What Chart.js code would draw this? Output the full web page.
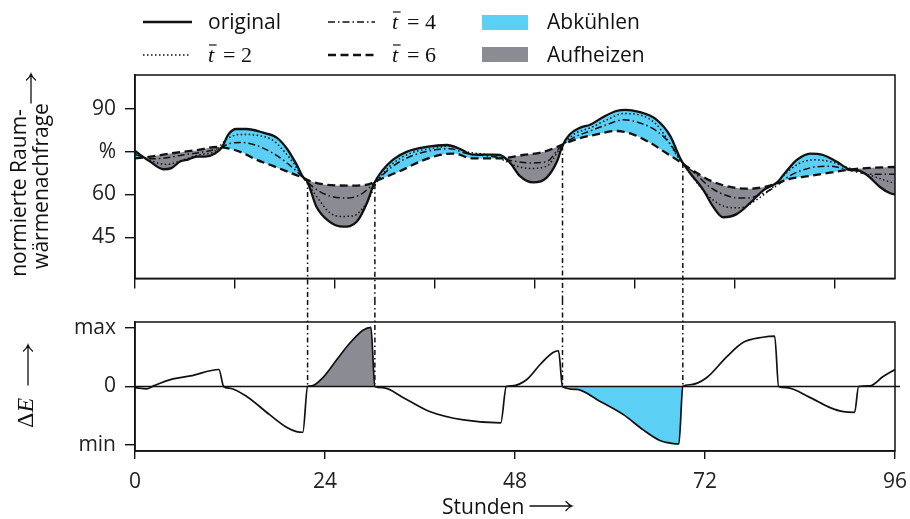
<!DOCTYPE html>
<html>
<head>
<meta charset="utf-8">
<script src="https://cdn.jsdelivr.net/npm/chart.js@4.4.1/dist/chart.umd.min.js"></script>
<style>
  body { margin: 0; background: #fff; }
  #wrap { position: relative; width: 910px; height: 519px; }
  canvas { position: absolute; left: 0; }
  #oben { top: 0; }
  #unten { top: 300px; }
</style>
</head>
<body>
<div id="wrap">
  <canvas id="oben" width="910" height="300"></canvas>
  <canvas id="unten" width="910" height="219"></canvas>
</div>
<script>
// normierte Raumwärmenachfrage (Stunden / Prozent)
const stundenOriginal = [0,1.9,3.6,4.6,5.7,6.7,7.8,8.8,10.1,11,11.8,12.8,14.1,16.2,17.9,19.2,20.4,21.2,21.8,22.9,24.6,26.3,28,29.3,30.2,31.2,32.6,34.3,36.8,39.4,41,42.7,45.3,46.1,47.4,48.6,50.3,52,53.3,54,54.9,56.2,57.5,59.2,60.8,62,63.5,65.9,67.6,68.8,69.2,70.1,71.8,73,74.3,76,77.7,79.4,81.1,82.3,83.6,85.3,86.9,88.6,90.3,91.6,92.8,94.1,95.4,96];
const wertOriginal = [75.2,71.5,68.8,69.2,71.5,72.2,73.2,73.2,74.3,76.6,81,82.9,82.9,81.6,79.9,76,70.5,66.2,64.3,55.8,50.4,48.7,50.4,57,63.8,68.2,72.2,74.9,76.6,77.3,76,73.9,73.9,73.8,71,66.5,64.2,65.9,71.5,77.1,81,83.3,84.4,87.2,89.2,89.6,89,86.1,80.5,73,71,67.5,61.5,55.8,52,53.1,57,61.5,64.2,68.2,72.1,74.3,73.8,71.5,68.7,68.2,66,62.6,60.4,60];

const stundenT2 = [0,2,4,6,8,10,11.6,13.3,15.4,17.5,18.7,20,20.8,21.8,23.4,24.6,25.9,27.6,28.8,29.7,30.3,32.2,34.7,37.7,39.8,41.9,45.3,48.2,49.9,52,53.7,55.4,57.5,59.6,61.7,63.8,65.9,67.2,68.4,69.2,71.4,73,74.7,76.4,78.5,80.6,82.3,84,85.7,87.8,89.9,92,93.7,96];
const wertT2 = [74.5,71.8,70.5,72,73.8,75,79.4,81,80.7,78.8,75.5,71,67.6,63.8,57.5,53.6,52.3,52.5,55.3,59.2,63.1,69.9,74.3,76.2,76.9,74.9,73.5,69.9,69.1,69.9,76,81,83.3,86.1,88.3,87.8,84.4,79.4,73.8,71,62.6,58.1,55.6,55.3,58.1,62.6,67.6,71,72.1,71.5,69.5,67.6,65.9,63.8];

const stundenT4 = [0,2,4,6,8,10.5,12,13.3,15.4,17.5,19.2,20.8,21.7,23.4,25,26.7,28.4,29.7,30.5,32.6,34.7,37.7,39.8,41.9,45.3,48.2,49.9,52,53.7,55.4,57.5,59.6,61.7,63.8,65.9,67.6,68.8,69.2,70.9,72.6,75.2,77.3,79.4,81.1,82.7,85.3,87.8,90.3,92.8,96];
const wertT4 = [74,72.5,72.8,73.8,74.6,76,77.8,78.2,77.1,74.3,71,67.1,64.5,60.9,59.2,58.7,59.8,62.6,64.8,69.9,73.2,75.5,76,74.3,73.2,71.5,71,71.5,76.6,79.9,82.2,84.4,86.1,85,82.2,77.7,72.5,71,67,62.6,59.2,58.7,60.4,63.1,66.5,69.3,69.9,68.4,67.1,67.1];

const stundenT6 = [0,1.9,4.4,7.8,10.3,11.6,13.3,15.4,17.5,19.6,21.3,22.1,24.2,27.2,29.3,30.5,33.5,36,38.5,40.2,42.7,46.1,49,51.6,53.7,55.8,58.3,60.8,62.9,65,67.2,68.8,70.1,71.4,72.6,75.2,77.7,80.2,82.7,85.3,87.8,90.3,92.8,96];
const wertT6 = [72.6,73.2,74.3,75.5,76.6,76.2,74.9,72.1,69.9,67.6,65.7,64.7,63.4,63.1,63.4,64.8,68.2,71.5,73.8,74.3,72.6,72.6,73.8,74.9,77.1,79.4,81,82.2,81,78.2,74.3,71.5,69,66.8,64.9,62.6,62,63.1,65.4,66.5,67.6,68.7,69.3,69.6];

// Energiedifferenz ΔE (normiert auf min/max)
const stundenE = [0,1.5,2.5,4.8,7,10.6,11.2,12,14.1,17,19.2,20.4,21.2,21.8,22.3,23.8,25.5,27.2,28.8,29.8,30.3,31.3,33.9,37.3,41.5,46.2,46.9,47.6,49.5,51.2,52.8,53.5,54,55.8,58.7,61.7,64.2,66.3,67.8,68.7,69.2,70.1,72.2,74.7,76.8,79.3,80.8,81.3,82.3,85.3,87.8,89.5,90.9,91.4,92.8,94.5,96];
const wertE = [-0.02,-0.04,0.02,0.13,0.18,0.29,0,-0.03,-0.17,-0.48,-0.7,-0.77,-0.78,0,0.01,0.16,0.46,0.75,0.96,1.01,0,-0.02,-0.19,-0.43,-0.57,-0.62,0,0.01,0.12,0.38,0.58,0.61,0,-0.05,-0.25,-0.48,-0.74,-0.92,-0.97,-0.98,0,0.03,0.15,0.5,0.75,0.84,0.86,0,-0.02,-0.19,-0.36,-0.43,-0.44,0,0.01,0.17,0.29];

// Umschaltzeitpunkte und Niveau im oberen Diagramm
const umschaltStunden = [21.8, 30.3, 54.0, 69.2];
const umschaltNiveau = [65.2, 63.6, 77.1, 71.0];
const aufheizFenster = [21.8, 30.3];
const abkuehlFenster = [54.0, 69.2];

// Achsenteilung
const xTicksOben = [0, 12.63, 25.26, 37.89, 50.53, 63.16, 75.79, 88.42];
const xTicksUnten = [0, 24, 48, 72, 96];
const yTicksOben = [45, 60, 75, 90];
const yTicksUnten = [-1, 0, 1];

const BLAU = '#5ccff5';
const GRAU = '#8b8c93';
const SCHWARZ = '#111';
const SCHRIFT = '"Open Sans", "DejaVu Sans", sans-serif';
const GROESSE = 21;
const FONT = GROESSE + 'px ' + SCHRIFT;

const DASH_T2 = [1.5, 2.5];
const DASH_T4 = [7, 3, 1.5, 3];
const DASH_T6 = [8, 4.5];

function punkte(stunden, werte) {
    return stunden.map((h, i) => ({ x: h, y: werte[i] }));
}

function fenster(stunden, werte, von, bis) {
    return stunden.map((h, i) => ({ x: h, y: (h >= von && h <= bis) ? werte[i] : null }));
}

// langer Pfeil nach rechts (im aktuellen Koordinatensystem)
function pfeil(ctx, x, y, laenge) {
    ctx.save();
    ctx.translate(x, y);
    ctx.strokeStyle = SCHWARZ;
    ctx.lineWidth = 1.3;
    ctx.lineCap = 'round';
    ctx.beginPath();
    ctx.moveTo(0, 0);
    ctx.lineTo(laenge, 0);
    ctx.moveTo(laenge - 6, -4.5);
    ctx.quadraticCurveTo(laenge - 3, -1, laenge, 0);
    ctx.quadraticCurveTo(laenge - 3, 1, laenge - 6, 4.5);
    ctx.stroke();
    ctx.restore();
}

function senkrecht(ctx, text, cx, cy, font) {
    ctx.save();
    ctx.translate(cx, cy);
    ctx.rotate(-Math.PI / 2);
    ctx.font = font;
    ctx.textAlign = 'center';
    ctx.textBaseline = 'middle';
    ctx.fillText(text, 0, 0);
    ctx.restore();
}

function musterLinie(ctx, x0, x1, y, dash, breite) {
    ctx.save();
    ctx.beginPath();
    ctx.setLineDash(dash);
    ctx.lineWidth = breite;
    ctx.strokeStyle = SCHWARZ;
    ctx.moveTo(x0, y);
    ctx.lineTo(x1, y);
    ctx.stroke();
    ctx.restore();
}

// t mit Querstrich, dann "= n"
function tQuer(ctx, x, y, zahl) {
    ctx.save();
    ctx.textAlign = 'left';
    ctx.textBaseline = 'alphabetic';
    ctx.font = 'italic 22px "Liberation Serif", serif';
    ctx.fillText('t', x, y);
    const wt = ctx.measureText('t').width;
    ctx.beginPath();
    ctx.lineWidth = 1.2;
    ctx.strokeStyle = SCHWARZ;
    ctx.moveTo(x + 1, y - 17);
    ctx.lineTo(x + wt + 2.5, y - 17);
    ctx.stroke();
    ctx.font = '22px "Liberation Serif", serif';
    ctx.fillText('= ' + zahl, x + wt + 9, y);
    ctx.restore();
}

function legende(ctx) {
    ctx.save();
    ctx.fillStyle = SCHWARZ;
    ctx.font = FONT;
    ctx.textBaseline = 'alphabetic';
    ctx.textAlign = 'left';

    musterLinie(ctx, 143, 192, 22, [], 2.5);
    ctx.fillText('original', 208, 29);
    musterLinie(ctx, 143, 190, 55, DASH_T2, 1.5);
    tQuer(ctx, 208, 62, 2);

    musterLinie(ctx, 328, 375, 22, DASH_T4, 1.5);
    tQuer(ctx, 392, 29, 4);
    musterLinie(ctx, 328, 375, 55, DASH_T6, 2.6);
    tQuer(ctx, 392, 62, 6);

    ctx.fillStyle = BLAU;
    ctx.fillRect(482, 15, 46, 15);
    ctx.fillStyle = GRAU;
    ctx.fillRect(482, 47, 46, 15);
    ctx.fillStyle = SCHWARZ;
    ctx.font = FONT;
    ctx.fillText('Abkühlen', 547, 29);
    ctx.fillText('Aufheizen', 547, 62);
    ctx.restore();
}

function rahmen(ctx, a) {
    ctx.save();
    ctx.strokeStyle = SCHWARZ;
    ctx.lineWidth = 1.5;
    ctx.strokeRect(a.left, a.top, a.right - a.left, a.bottom - a.top);
    ctx.restore();
}

const obenDeko = {
    id: 'obenDeko',
    afterDraw(chart) {
        const { ctx, chartArea, scales } = chart;
        rahmen(ctx, chartArea);
        ctx.save();
        ctx.strokeStyle = SCHWARZ;
        ctx.lineWidth = 1.5;
        ctx.setLineDash([5, 3, 1.5, 3]);
        umschaltStunden.forEach((h, i) => {
            const px = scales.x.getPixelForValue(h);
            ctx.beginPath();
            ctx.moveTo(px, scales.y.getPixelForValue(umschaltNiveau[i]));
            ctx.lineTo(px, chart.height);
            ctx.stroke();
        });
        ctx.restore();

        legende(ctx);

        ctx.save();
        ctx.fillStyle = SCHWARZ;
        senkrecht(ctx, 'normierte Raum-', 20, 193, FONT);
        senkrecht(ctx, 'wärmenachfrage', 42, 186, FONT);
        ctx.translate(31, 103);
        ctx.rotate(-Math.PI / 2);
        pfeil(ctx, 0, 0, 29);
        ctx.restore();
    }
};

const untenDeko = {
    id: 'untenDeko',
    beforeDatasetsDraw(chart) {
        const { ctx, chartArea, scales } = chart;
        const y0 = scales.y.getPixelForValue(0);
        ctx.save();
        ctx.strokeStyle = SCHWARZ;
        ctx.lineWidth = 1.3;
        ctx.beginPath();
        ctx.moveTo(chartArea.left, y0);
        ctx.lineTo(chartArea.right + 5, y0);
        ctx.stroke();
        ctx.restore();
    },
    afterDraw(chart) {
        const { ctx, chartArea, scales } = chart;
        rahmen(ctx, chartArea);
        const y0 = scales.y.getPixelForValue(0);
        ctx.save();
        ctx.strokeStyle = SCHWARZ;
        ctx.lineWidth = 1.5;
        ctx.setLineDash([5, 3, 1.5, 3]);
        umschaltStunden.forEach(h => {
            const px = scales.x.getPixelForValue(h);
            ctx.beginPath();
            ctx.moveTo(px, 0);
            ctx.lineTo(px, y0);
            ctx.stroke();
        });
        ctx.restore();

        // Achsentitel
        ctx.save();
        ctx.fillStyle = SCHWARZ;
        ctx.font = FONT;
        ctx.textBaseline = 'middle';
        ctx.textAlign = 'left';
        ctx.fillText('Stunden', 442, 208);
        pfeil(ctx, 530, 206, 42);

        ctx.translate(27, 128);
        ctx.rotate(-Math.PI / 2);
        ctx.textAlign = 'left';
        ctx.font = '24px "Liberation Serif", serif';
        ctx.fillText('Δ', 0, 0);
        const wd = ctx.measureText('Δ').width;
        ctx.font = 'italic 24px "Liberation Serif", serif';
        ctx.fillText('E', wd, 0);
        pfeil(ctx, 43, 1, 40);
        ctx.restore();
    }
};

Chart.defaults.font.family = SCHRIFT;
Chart.defaults.font.size = GROESSE;
Chart.defaults.color = '#222';

function achse(extra) {
    return Object.assign({
        type: 'linear',
        grid: { drawOnChartArea: false, color: SCHWARZ, lineWidth: 1.4, tickLength: 10 },
        border: { color: SCHWARZ, width: 1.5 }
    }, extra);
}

function festeBreite(breite) {
    return s => { s.width = breite; };
}

function festeHoehe(hoehe) {
    return s => { s.height = hoehe; s.paddingLeft = 0; s.paddingRight = 0; };
}

new Chart(document.getElementById('oben'), {
    type: 'line',
    data: {
        datasets: [
            {
                label: 'original',
                data: punkte(stundenOriginal, wertOriginal),
                borderColor: SCHWARZ,
                borderWidth: 2.3,
                fill: { target: 3, above: BLAU, below: GRAU }
            },
            {
                label: 't2',
                data: punkte(stundenT2, wertT2),
                borderColor: SCHWARZ,
                borderWidth: 1.5,
                borderDash: DASH_T2,
                fill: false
            },
            {
                label: 't4',
                data: punkte(stundenT4, wertT4),
                borderColor: SCHWARZ,
                borderWidth: 1.5,
                borderDash: DASH_T4,
                fill: false
            },
            {
                label: 't6',
                data: punkte(stundenT6, wertT6),
                borderColor: SCHWARZ,
                borderWidth: 2.3,
                borderDash: DASH_T6,
                fill: false
            }
        ]
    },
    options: {
        responsive: false,
        animation: false,
        layout: { padding: { left: 0, right: 15, top: 75, bottom: 0 } },
        elements: {
            point: { radius: 0 },
            line: { cubicInterpolationMode: 'monotone' }
        },
        plugins: {
            legend: { display: false },
            tooltip: { enabled: false },
            filler: { drawTime: 'beforeDatasetsDraw' }
        },
        scales: {
            x: achse({
                min: 0,
                max: 96,
                afterBuildTicks: s => { s.ticks = xTicksOben.map(v => ({ value: v })); },
                ticks: { display: false },
                afterFit: festeHoehe(13)
            }),
            y: achse({
                min: 30.6,
                max: 101.8,
                afterBuildTicks: s => { s.ticks = yTicksOben.map(v => ({ value: v })); },
                ticks: { padding: 9, callback: v => v === 75 ? '%' : String(v) },
                afterFit: festeBreite(135)
            })
        }
    },
    plugins: [obenDeko]
});

new Chart(document.getElementById('unten'), {
    type: 'line',
    data: {
        datasets: [
            {
                label: 'ΔE',
                data: punkte(stundenE, wertE),
                borderColor: SCHWARZ,
                borderWidth: 1.7,
                fill: false
            },
            {
                label: 'Aufheizen',
                data: fenster(stundenE, wertE, aufheizFenster[0], aufheizFenster[1]),
                borderWidth: 0,
                backgroundColor: GRAU,
                spanGaps: false,
                fill: 'origin'
            },
            {
                label: 'Abkühlen',
                data: fenster(stundenE, wertE, abkuehlFenster[0], abkuehlFenster[1]),
                borderWidth: 0,
                backgroundColor: BLAU,
                spanGaps: false,
                fill: 'origin'
            }
        ]
    },
    options: {
        responsive: false,
        animation: false,
        layout: { padding: { left: 0, right: 15, top: 22, bottom: 0 } },
        elements: {
            point: { radius: 0 },
            line: { cubicInterpolationMode: 'monotone' }
        },
        plugins: {
            legend: { display: false },
            tooltip: { enabled: false },
            filler: { drawTime: 'beforeDatasetsDraw' }
        },
        scales: {
            x: achse({
                min: 0,
                max: 96,
                afterBuildTicks: s => { s.ticks = xTicksUnten.map(v => ({ value: v })); },
                grid: { drawOnChartArea: false, color: SCHWARZ, lineWidth: 1.4, tickLength: 8 },
                ticks: { padding: 10 },
                afterFit: festeHoehe(68)
            }),
            y: achse({
                min: -1.1,
                max: 1.1,
                afterBuildTicks: s => { s.ticks = yTicksUnten.map(v => ({ value: v })); },
                ticks: { padding: 9, callback: v => v === 1 ? 'max' : (v === -1 ? 'min' : '0') },
                afterFit: festeBreite(135)
            })
        }
    },
    plugins: [untenDeko]
});
</script>
</body>
</html>
